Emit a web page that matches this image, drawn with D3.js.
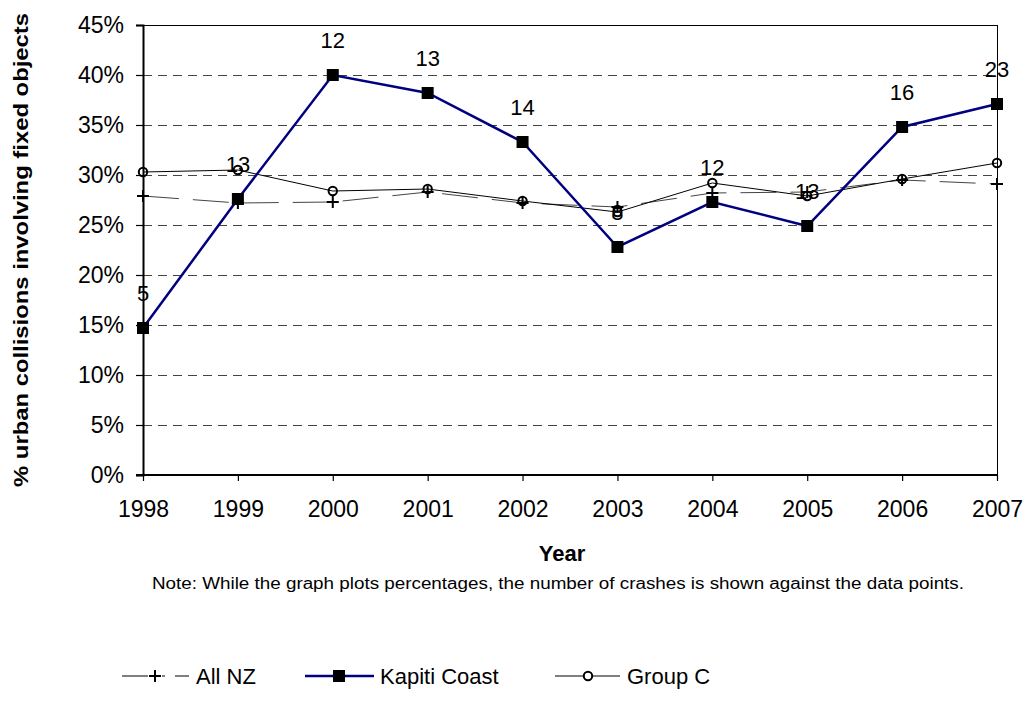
<!DOCTYPE html>
<html><head><meta charset="utf-8">
<script src="https://cdn.jsdelivr.net/npm/d3@7"></script>
<style>body{margin:0;background:#fff;}svg{display:block;font-family:"Liberation Sans",Arial,sans-serif;}</style>
</head><body><svg id="c" width="1026" height="713"></svg>
<script>
const years = [1998,1999,2000,2001,2002,2003,2004,2005,2006,2007];
const allNZ = [27.9,27.2,27.3,28.3,27.2,26.8,28.2,28.3,29.5,29.1];
const kapiti = [14.7,27.6,40.0,38.2,33.3,22.8,27.3,24.9,34.8,37.1];
const groupC = [30.3,30.5,28.4,28.6,27.4,26.3,29.2,27.9,29.6,31.2];
const crashLabels = ["5","13","12","13","14","8","12","13","16","23"];
const yTicks = [0,5,10,15,20,25,30,35,40,45];

const svg = d3.select("#c");
const L=143,R=997,T=25,B=475;
const x = d3.scalePoint().domain(years).range([L,R]);
const y = d3.scaleLinear().domain([0,45]).range([B,T]);
const FF = "Liberation Sans, Arial, sans-serif";

// gridlines
svg.append("g").selectAll("line").data(yTicks.filter(t=>t>0&&t<45)).join("line")
  .attr("x1",L).attr("x2",R).attr("y1",d=>y(d)+0.5).attr("y2",d=>y(d)+0.5)
  .attr("stroke","#444").attr("stroke-width",1).attr("stroke-dasharray","9,6");
// border top/right
svg.append("line").attr("x1",L).attr("x2",R).attr("y1",T+0.5).attr("y2",T+0.5).attr("stroke","#000");
svg.append("line").attr("x1",R+0.5).attr("x2",R+0.5).attr("y1",T).attr("y2",B).attr("stroke","#000");

// axes
const yAxis = d3.axisLeft(y).tickValues(yTicks).tickFormat(d=>d+"%").tickSizeOuter(0).tickSize(7).tickPadding(12);
const gy = svg.append("g").attr("transform",`translate(${L},0)`).call(yAxis);
gy.select(".domain").attr("stroke-width",2);
gy.selectAll(".tick line").attr("stroke-width",1.2);
gy.selectAll("text").attr("font-size",23).attr("fill","#000").attr("font-family",FF);
const xAxis = d3.axisBottom(x).tickSizeOuter(0).tickSize(6).tickPadding(20);
const gx = svg.append("g").attr("transform",`translate(0,${B})`).call(xAxis);
gx.select(".domain").attr("stroke-width",2).attr("d",`M${L-7},0H${R}`);
gx.selectAll(".tick line").attr("stroke-width",1.2);
gx.selectAll("text").attr("font-size",23).attr("fill","#000").attr("font-family",FF);

// series
const line = d3.line().x((d,i)=>x(years[i])).y(d=>y(d));
svg.append("path").datum(allNZ).attr("d",line).attr("fill","none").attr("stroke","#444").attr("stroke-width",1).attr("stroke-dasharray","36,14");
svg.append("path").datum(groupC).attr("d",line).attr("fill","none").attr("stroke","#000").attr("stroke-width",1);
svg.append("path").datum(kapiti).attr("d",line).attr("fill","none").attr("stroke","#000080").attr("stroke-width",2.5);

svg.append("g").selectAll("path").data(allNZ).join("path")
  .attr("d",(d,i)=>`M${x(years[i])-6},${y(d)}H${x(years[i])+6}M${x(years[i])},${y(d)-6}V${y(d)+6}`)
  .attr("stroke","#000").attr("stroke-width",2).attr("fill","none");
svg.append("g").selectAll("circle").data(groupC).join("circle")
  .attr("cx",(d,i)=>x(years[i])).attr("cy",d=>y(d)).attr("r",4.2)
  .attr("fill","none").attr("stroke","#000").attr("stroke-width",2);
svg.append("g").selectAll("rect").data(kapiti).join("rect")
  .attr("x",(d,i)=>x(years[i])-6).attr("y",d=>y(d)-6).attr("width",12).attr("height",12).attr("fill","#000");

svg.append("g").selectAll("text").data(kapiti).join("text")
  .attr("x",(d,i)=>x(years[i])).attr("y",d=>y(d)-27)
  .attr("text-anchor","middle").attr("font-size",22).text((d,i)=>crashLabels[i]);

// titles
svg.append("text").attr("transform","translate(28,250) rotate(-90)").attr("text-anchor","middle")
  .attr("font-size",20.5).attr("font-weight","bold")
  .attr("textLength",474).attr("lengthAdjust","spacingAndGlyphs")
  .text("% urban collisions involving fixed objects");
svg.append("text").attr("x",562).attr("y",561).attr("text-anchor","middle").attr("font-size",22).attr("font-weight","bold").text("Year");
svg.append("text").attr("x",558).attr("y",589).attr("text-anchor","middle").attr("font-size",16)
  .attr("textLength",812).attr("lengthAdjust","spacingAndGlyphs")
  .text("Note: While the graph plots percentages, the number of crashes is shown against the  data points.");

// legend
const ly=676;
const lg = svg.append("g");
lg.append("path").attr("d",`M122,${ly}H148M162,${ly}H165M175,${ly}H189`).attr("stroke","#000").attr("stroke-width",1);
lg.append("path").attr("d",`M149,${ly}H161M155,${ly-6}V${ly+6}`).attr("stroke","#000").attr("stroke-width",2);
lg.append("text").attr("x",196).attr("y",ly+8).attr("font-size",22).text("All NZ");
lg.append("line").attr("x1",305).attr("x2",374).attr("y1",ly).attr("y2",ly).attr("stroke","#000080").attr("stroke-width",2.5);
lg.append("rect").attr("x",333).attr("y",ly-6).attr("width",12).attr("height",12).attr("fill","#000");
lg.append("text").attr("x",380).attr("y",ly+8).attr("font-size",22).text("Kapiti Coast");
lg.append("line").attr("x1",555).attr("x2",620).attr("y1",ly).attr("y2",ly).attr("stroke","#000").attr("stroke-width",1);
lg.append("circle").attr("cx",588).attr("cy",ly).attr("r",4.2).attr("fill","#fff").attr("stroke","#000").attr("stroke-width",2);
lg.append("text").attr("x",627).attr("y",ly+8).attr("font-size",22).text("Group C");
</script></body></html>
